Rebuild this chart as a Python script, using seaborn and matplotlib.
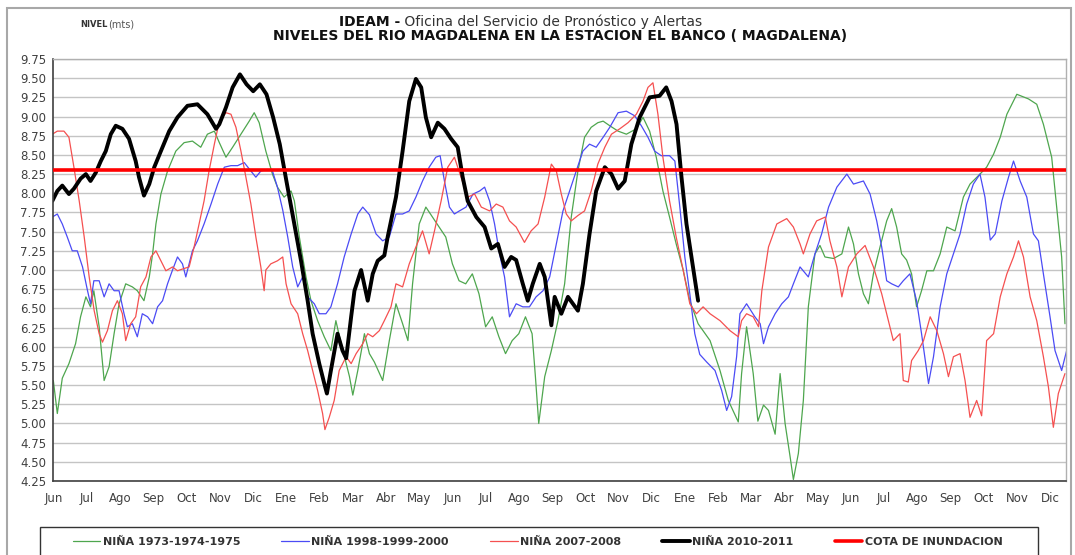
import numpy as np
import pandas as pd
import seaborn as sns
import matplotlib.pyplot as plt
from matplotlib.patches import Rectangle

# Eje x en meses: 0 = Jun del primer año ... 30 = Dic del tercer año
meses = ["Jun", "Jul", "Ago", "Sep", "Oct", "Nov", "Dic", "Ene", "Feb", "Mar", "Abr", "May",
         "Jun", "Jul", "Ago", "Sep", "Oct", "Nov", "Dic", "Ene", "Feb", "Mar", "Abr", "May",
         "Jun", "Jul", "Ago", "Sep", "Oct", "Nov", "Dic"]

cota_inundacion = 8.30

# NIÑA 1973-1974-1975
x_1973 = [-0.02, 0.1, 0.25, 0.45, 0.65, 0.8, 0.96, 1.1, 1.2, 1.36, 1.51, 1.66, 1.81, 1.96, 2.16, 2.36,
          2.51, 2.71, 2.87, 2.97, 3.07, 3.22, 3.42, 3.67, 3.92, 4.17, 4.42, 4.62, 4.83, 4.98, 5.18,
          5.38, 5.63, 5.88, 6.03, 6.18, 6.38, 6.58, 6.73, 6.93, 7.14, 7.24, 7.39, 7.59, 7.74, 7.94,
          8.14, 8.34, 8.49, 8.6, 8.75, 8.9, 9.0, 9.15, 9.35, 9.5, 9.65, 9.9, 10.1, 10.3, 10.5, 10.66,
          10.8, 11.0, 11.2, 11.4, 11.6, 11.8, 12.0, 12.2, 12.4, 12.6, 12.8, 13.0, 13.2, 13.4, 13.6,
          13.8, 14.0, 14.2, 14.4, 14.5, 14.6, 14.78, 14.98, 15.18, 15.38, 15.58, 15.78, 15.98, 16.18,
          16.38, 16.54, 16.74, 16.99, 17.24, 17.54, 17.74, 17.94, 18.14, 18.34, 18.54, 18.74, 18.95,
          19.15, 19.4, 19.76, 20.06, 20.31, 20.61, 20.71, 20.86, 21.06, 21.2, 21.37, 21.52, 21.72,
          21.87, 22.02, 22.17, 22.27, 22.42, 22.57, 22.72, 22.92, 23.07, 23.22, 23.48, 23.73, 23.93,
          24.08, 24.23, 24.38, 24.53, 24.68, 24.88, 25.08, 25.23, 25.38, 25.53, 25.68, 25.83, 25.98,
          26.13, 26.29, 26.49, 26.69, 26.89, 27.14, 27.39, 27.59, 27.89, 28.09, 28.3, 28.5, 28.7,
          29.0, 29.35, 29.6, 29.8, 30.05, 30.2, 30.35, 30.45]
nivel_1973 = [5.56, 5.13, 5.59, 5.78, 6.04, 6.39, 6.65, 6.52, 6.73, 6.26, 5.56, 5.74, 6.17, 6.56, 6.82,
              6.78, 6.73, 6.6, 6.91, 7.21, 7.6, 7.99, 8.29, 8.55, 8.66, 8.68, 8.6, 8.77, 8.81, 8.66,
              8.47, 8.6, 8.77, 8.94, 9.05, 8.92, 8.55, 8.25, 8.08, 7.95, 8.03, 7.9, 7.43, 6.91, 6.6,
              6.34, 6.13, 5.95, 6.34, 6.13, 5.87, 5.61, 5.37, 5.69, 6.17, 5.91, 5.8, 5.56, 6.08, 6.56,
              6.3, 6.08, 6.82, 7.6, 7.82, 7.69, 7.56, 7.43, 7.08, 6.86, 6.82, 6.95, 6.69, 6.26, 6.39,
              6.13, 5.91, 6.08, 6.17, 6.39, 6.17, 5.61, 5.0, 5.61, 5.95, 6.34, 6.82, 7.69, 8.29, 8.73,
              8.86, 8.92, 8.94, 8.88, 8.81, 8.77, 8.84, 8.99, 8.81, 8.47, 8.03, 7.69, 7.34, 7.0, 6.6,
              6.3, 6.08, 5.69, 5.3, 5.02, 5.65, 6.26, 5.65, 5.03, 5.24, 5.17, 4.86, 5.65, 5.0, 4.57,
              4.27, 4.61, 5.3, 6.52, 7.21, 7.32, 7.17, 7.15, 7.21, 7.56, 7.34, 6.95, 6.69, 6.56, 6.95,
              7.3, 7.64, 7.8, 7.56, 7.21, 7.13, 6.95, 6.52, 6.73, 6.99, 6.99, 7.21, 7.56, 7.51, 7.95,
              8.12, 8.25, 8.34, 8.51, 8.73, 9.03, 9.29, 9.23, 9.16, 8.9, 8.47, 7.82, 7.17, 6.3]

# NIÑA 1998-1999-2000
x_1998 = [-0.05, 0.1, 0.25, 0.4, 0.55, 0.7, 0.86, 1.01, 1.1, 1.2, 1.36, 1.51, 1.66, 1.81, 1.96, 2.11,
          2.21, 2.36, 2.51, 2.66, 2.82, 2.97, 3.12, 3.27, 3.42, 3.57, 3.72, 3.87, 3.97, 4.07, 4.17,
          4.32, 4.52, 4.73, 4.93, 5.13, 5.33, 5.53, 5.73, 5.93, 6.08, 6.23, 6.43, 6.58, 6.73, 6.89,
          7.04, 7.19, 7.34, 7.49, 7.64, 7.84, 7.99, 8.19, 8.34, 8.54, 8.74, 8.95, 9.15, 9.3, 9.5,
          9.7, 9.9, 10.1, 10.3, 10.5, 10.7, 10.9, 11.1, 11.3, 11.5, 11.63, 11.76, 11.91, 12.06, 12.21,
          12.41, 12.62, 12.82, 12.97, 13.12, 13.27, 13.42, 13.57, 13.72, 13.92, 14.12, 14.32, 14.52,
          14.73, 14.93, 15.13, 15.33, 15.53, 15.73, 15.93, 16.13, 16.33, 16.54, 16.74, 16.99, 17.24,
          17.49, 17.69, 17.89, 18.09, 18.29, 18.54, 18.7, 18.85, 19.0, 19.15, 19.3, 19.45, 19.66,
          19.91, 20.11, 20.26, 20.41, 20.56, 20.66, 20.86, 21.11, 21.27, 21.37, 21.52, 21.72, 21.92,
          22.12, 22.27, 22.47, 22.72, 22.92, 23.12, 23.33, 23.58, 23.88, 24.08, 24.38, 24.58, 24.78,
          24.93, 25.08, 25.23, 25.43, 25.58, 25.78, 25.98, 26.13, 26.34, 26.49, 26.69, 26.89, 27.09,
          27.29, 27.49, 27.69, 27.89, 28.04, 28.2, 28.35, 28.55, 28.75, 28.9, 29.1, 29.3, 29.5,
          29.65, 29.8, 30.0, 30.15, 30.35, 30.5]
nivel_1998 = [7.69, 7.73, 7.6, 7.43, 7.25, 7.25, 7.04, 6.73, 6.56, 6.86, 6.86, 6.65, 6.82, 6.73, 6.73,
              6.43, 6.26, 6.3, 6.13, 6.43, 6.39, 6.3, 6.52, 6.6, 6.82, 7.0, 7.17, 7.08, 6.91, 7.08,
              7.25, 7.38, 7.6, 7.86, 8.12, 8.34, 8.36, 8.36, 8.4, 8.29, 8.21, 8.29, 8.31, 8.29, 8.08,
              7.78, 7.43, 7.04, 6.78, 6.91, 6.65, 6.56, 6.43, 6.43, 6.52, 6.82, 7.17, 7.47, 7.73, 7.82,
              7.72, 7.47, 7.38, 7.43, 7.73, 7.73, 7.77, 7.95, 8.16, 8.34, 8.47, 8.49, 8.16, 7.82, 7.73,
              7.77, 7.82, 7.99, 8.03, 8.08, 7.9, 7.6, 7.21, 6.91, 6.39, 6.56, 6.52, 6.52, 6.65, 6.73,
              6.91, 7.34, 7.77, 8.03, 8.29, 8.55, 8.64, 8.6, 8.73, 8.86, 9.05, 9.07, 9.01, 8.88, 8.73,
              8.55, 8.49, 8.49, 8.42, 7.82, 7.17, 6.69, 6.17, 5.9, 5.8, 5.69, 5.43, 5.17, 5.35, 5.87,
              6.43, 6.56, 6.39, 6.3, 6.04, 6.26, 6.43, 6.56, 6.65, 6.82, 7.04, 6.91, 7.21, 7.47, 7.82,
              8.08, 8.25, 8.12, 8.16, 7.99, 7.64, 7.3, 6.86, 6.82, 6.78, 6.86, 6.95, 6.6, 6.17, 5.52,
              5.87, 6.52, 6.95, 7.21, 7.47, 7.86, 8.12, 8.25, 7.95, 7.39, 7.47, 7.9, 8.21, 8.42, 8.16,
              7.95, 7.47, 7.38, 6.95, 6.39, 5.95, 5.69, 5.95]

# NIÑA 2007-2008
x_2007 = [-0.05, 0.1, 0.3, 0.45, 0.6, 0.76, 0.91, 1.06, 1.21, 1.36, 1.46, 1.61, 1.76, 1.91, 2.06, 2.16,
          2.31, 2.46, 2.61, 2.77, 2.92, 3.07, 3.22, 3.37, 3.57, 3.72, 3.92, 4.07, 4.22, 4.37, 4.52,
          4.67, 4.83, 4.98, 5.18, 5.33, 5.48, 5.63, 5.78, 5.93, 6.08, 6.23, 6.33, 6.38, 6.53, 6.73,
          6.89, 6.99, 7.14, 7.34, 7.49, 7.64, 7.79, 7.94, 8.09, 8.16, 8.29, 8.44, 8.59, 8.8, 8.95,
          9.1, 9.3, 9.45, 9.6, 9.8, 9.95, 10.15, 10.3, 10.5, 10.7, 10.9, 11.1, 11.3, 11.46, 11.66,
          11.86, 12.06, 12.26, 12.46, 12.67, 12.87, 13.12, 13.32, 13.52, 13.72, 13.92, 14.17, 14.37,
          14.58, 14.78, 14.98, 15.13, 15.28, 15.43, 15.58, 15.78, 15.98, 16.18, 16.38, 16.59, 16.79,
          17.04, 17.29, 17.54, 17.74, 17.89, 18.04, 18.19, 18.34, 18.54, 18.74, 18.95, 19.15, 19.35,
          19.55, 19.76, 20.06, 20.36, 20.61, 20.71, 20.86, 21.06, 21.22, 21.32, 21.52, 21.77, 22.07,
          22.27, 22.47, 22.57, 22.77, 22.97, 23.23, 23.37, 23.58, 23.73, 23.93, 24.18, 24.43, 24.68,
          24.93, 25.13, 25.28, 25.48, 25.58, 25.73, 25.83, 26.03, 26.19, 26.39, 26.59, 26.79, 26.94,
          27.09, 27.29, 27.44, 27.59, 27.79, 27.94, 28.09, 28.3, 28.5, 28.7, 28.9, 29.05, 29.2,
          29.4, 29.6, 29.8, 29.95, 30.1, 30.25, 30.45]
nivel_2007 = [8.77, 8.81, 8.81, 8.73, 8.34, 7.9, 7.43, 6.91, 6.47, 6.17, 6.06, 6.21, 6.47, 6.6, 6.43,
              6.08, 6.3, 6.39, 6.78, 6.91, 7.17, 7.25, 7.12, 6.99, 7.04, 6.99, 7.02, 7.04, 7.3, 7.6,
              7.9, 8.29, 8.64, 8.94, 9.05, 9.03, 8.86, 8.55, 8.21, 7.86, 7.43, 7.04, 6.73, 7.0, 7.08,
              7.12, 7.17, 6.82, 6.56, 6.43, 6.17, 5.95, 5.69, 5.43, 5.13, 4.92, 5.08, 5.3, 5.69, 5.87,
              5.78, 5.91, 6.04, 6.17, 6.13, 6.21, 6.34, 6.52, 6.82, 6.78, 7.08, 7.3, 7.51, 7.21, 7.51,
              7.9, 8.34, 8.47, 8.21, 7.95, 7.99, 7.82, 7.77, 7.86, 7.82, 7.64, 7.56, 7.36, 7.51, 7.6,
              7.95, 8.38, 8.29, 7.99, 7.73, 7.64, 7.71, 7.77, 8.03, 8.38, 8.6, 8.77, 8.84, 8.92, 9.03,
              9.2, 9.38, 9.44, 9.03, 8.47, 7.9, 7.43, 7.0, 6.56, 6.43, 6.52, 6.43, 6.34, 6.21, 6.13,
              6.34, 6.43, 6.39, 6.26, 6.73, 7.3, 7.6, 7.67, 7.56, 7.34, 7.21, 7.47, 7.64, 7.69, 7.38,
              7.04, 6.65, 7.04, 7.21, 7.32, 7.04, 6.69, 6.34, 6.08, 6.17, 5.56, 5.54, 5.82, 5.95, 6.08,
              6.39, 6.21, 5.91, 5.61, 5.87, 5.91, 5.56, 5.08, 5.3, 5.1, 6.08, 6.17, 6.65, 6.95, 7.17,
              7.38, 7.17, 6.65, 6.34, 5.87, 5.48, 4.95, 5.39, 5.65]

# NIÑA 2010-2011
x_2010 = [-0.05, 0.1, 0.25, 0.45, 0.6, 0.8, 0.96, 1.1, 1.26, 1.41, 1.56, 1.71, 1.86, 2.06, 2.26, 2.46,
          2.56, 2.71, 2.87, 3.02, 3.22, 3.47, 3.72, 4.02, 4.32, 4.62, 4.88, 4.98, 5.18, 5.38, 5.6,
          5.8, 6.0, 6.2, 6.4, 6.6, 6.8, 7.0, 7.2, 7.44, 7.64, 7.79, 7.99, 8.14, 8.22, 8.34, 8.54,
          8.69, 8.8, 8.95, 9.05, 9.25, 9.45, 9.6, 9.75, 9.95, 10.05, 10.3, 10.5, 10.7, 10.9, 11.06,
          11.2, 11.36, 11.56, 11.76, 11.96, 12.16, 12.31, 12.46, 12.72, 12.97, 13.17, 13.37, 13.57,
          13.77, 13.92, 14.12, 14.27, 14.42, 14.63, 14.78, 14.98, 15.08, 15.28, 15.48, 15.78, 15.93,
          16.13, 16.33, 16.59, 16.79, 16.99, 17.19, 17.39, 17.64, 17.94, 18.24, 18.44, 18.6, 18.75,
          18.9, 19.05, 19.2, 19.4]
nivel_2010 = [7.9, 8.03, 8.1, 7.99, 8.06, 8.19, 8.25, 8.16, 8.27, 8.42, 8.55, 8.77, 8.88, 8.84, 8.71,
              8.42, 8.21, 7.97, 8.12, 8.34, 8.55, 8.81, 8.99, 9.14, 9.16, 9.03, 8.84, 8.9, 9.12, 9.38,
              9.55, 9.42, 9.33, 9.42, 9.29, 8.99, 8.64, 8.16, 7.69, 7.12, 6.6, 6.17, 5.78, 5.52, 5.39,
              5.69, 6.17, 5.95, 5.85, 6.39, 6.73, 7.0, 6.6, 6.95, 7.12, 7.19, 7.43, 7.95, 8.55, 9.2,
              9.49, 9.38, 8.99, 8.73, 8.92, 8.84, 8.71, 8.6, 8.21, 7.9, 7.69, 7.56, 7.28, 7.34, 7.04,
              7.17, 7.13, 6.82, 6.6, 6.82, 7.08, 6.91, 6.28, 6.65, 6.43, 6.65, 6.47, 6.82, 7.47, 8.03,
              8.34, 8.25, 8.06, 8.16, 8.64, 8.99, 9.25, 9.27, 9.38, 9.2, 8.9, 8.21, 7.6, 7.17, 6.6]

series = [
    ("NIÑA 1973-1974-1975", x_1973, nivel_1973, "#4ea64e", 0.9),
    ("NIÑA 1998-1999-2000", x_1998, nivel_1998, "#4b4bf5", 0.9),
    ("NIÑA 2007-2008", x_2007, nivel_2007, "#f55050", 0.9),
    ("NIÑA 2010-2011", x_2010, nivel_2010, "#000000", 2.8),
]

sns.set_style("white")
plt.rcParams['font.family'] = ['DejaVu Sans']

fig = plt.figure(figsize=(10.75, 5.55), dpi=100)
ax = fig.add_axes([0.0493, 0.1333, 0.9423, 0.7604])

for label, xs, ys, color, lw in series:
    df = pd.DataFrame({"mes": xs, "nivel": ys})
    sns.lineplot(data=df, x="mes", y="nivel", ax=ax, color=color, linewidth=lw,
                 label=label, sort=False, estimator=None, errorbar=None, legend=False)

ax.axhline(cota_inundacion, color="#ff0000", linewidth=2.6, label="COTA DE INUNDACION", zorder=5)

# Axes formatting
ax.set_xlim(-0.03, 30.48)
ax.set_ylim(4.25, 9.75)
yticks = np.arange(4.25, 9.76, 0.25)
ax.set_yticks(yticks)
ax.set_yticklabels([f"{v:.2f}" for v in yticks])
ax.set_xticks(range(len(meses)))
ax.set_xticklabels(meses)
ax.set_xlabel("")
ax.set_ylabel("")
ax.grid(axis="y", color="#c4c4c4", linewidth=1.0)
ax.set_axisbelow(True)
ax.tick_params(axis="y", direction="inout", length=6, width=1, color="#404040",
               labelsize=8.5, labelcolor="#404040", pad=2)
ax.tick_params(axis="x", length=0, labelsize=8.5, labelcolor="#404040", pad=8)
for side in ["left", "bottom"]:
    ax.spines[side].set_color("#404040")
    ax.spines[side].set_linewidth(1.2)
for side in ["top", "right"]:
    ax.spines[side].set_color("#b0b0b0")
    ax.spines[side].set_linewidth(1.0)

# Titles
fig.text(0.372, 0.960, "IDEAM -", ha="right", va="center", fontsize=10, fontweight="bold", color="#111111")
fig.text(0.372, 0.960, " Oficina del Servicio de Pronóstico y Alertas", ha="left", va="center",
         fontsize=10, color="#333333")
fig.text(0.521, 0.935, "NIVELES DEL RIO MAGDALENA EN LA ESTACION EL BANCO ( MAGDALENA)",
         ha="center", va="center", fontsize=10, fontweight="bold", color="#111111")
fig.text(0.0744, 0.955, "NIVEL", ha="left", va="center", fontsize=6, fontweight="bold", color="#333333")
fig.text(0.1005, 0.955, "(mts)", ha="left", va="center", fontsize=7, color="#555555")

# Legend with its own box
handles, labels = ax.get_legend_handles_labels()
leg = fig.legend(handles, labels, loc="center", bbox_to_anchor=(0.5, 0.0234), ncol=5,
                 frameon=False, handlelength=2.5, handletextpad=0.2, columnspacing=3.7,
                 prop={"size": 8, "weight": "bold"})
for t in leg.get_texts():
    t.set_color("#333333")
fig.patches.append(Rectangle((0.0372, -0.004), 0.928, 0.0545, transform=fig.transFigure,
                             fill=False, edgecolor="#333333", linewidth=1.0))

# Chart area border
fig.patches.append(Rectangle((0.0065, -0.01), 0.9895, 0.9956, transform=fig.transFigure,
                             fill=False, edgecolor="#a8a8a8", linewidth=1.5))

plt.savefig("out.png", dpi=100)
